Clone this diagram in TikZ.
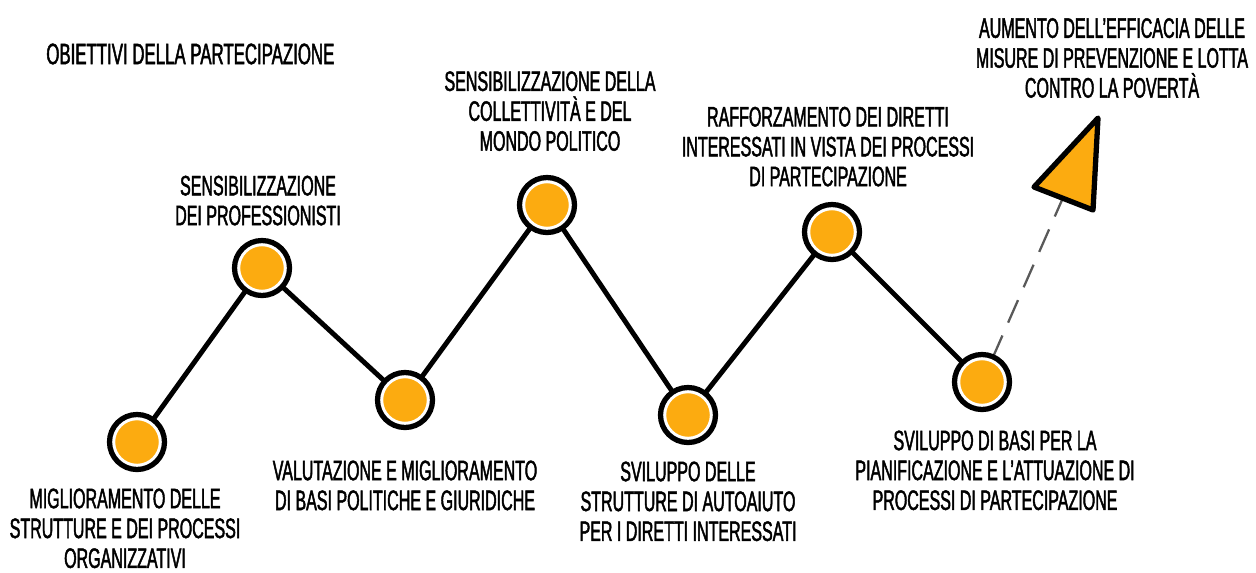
\documentclass[tikz,border=0pt]{standalone}
\usepackage{fontspec}
\setmainfont[FakeStretch=0.57,FakeBold=1.6]{Liberation Sans}
\usetikzlibrary{positioning}
\definecolor{punto}{RGB}{252,171,16}
\tikzset{
  tappa/.style={circle,fill=punto,draw=white,line width=2.5pt,minimum size=0.96cm,inner sep=0pt},
  anello/.style={draw=black,line width=3pt},
  testo/.style={align=center,font=\fontsize{16}{17}\selectfont,inner sep=0pt},
  tratto/.style={line width=2.8pt,black},
  verso/.style={line width=1.3pt,gray!70!black,dash pattern=on 14pt off 8pt}
}
\begin{document}
\begin{tikzpicture}[x=0.02cm,y=-0.02cm]
\useasboundingbox (0,0) rectangle (1256,572);
% tappe
\node[tappa](M1) at (137,442){};
\node[tappa](S2) at (262,268){};
\node[tappa](V3) at (405,400){};
\node[tappa](C4) at (547,205){};
\node[tappa](A5) at (688,415){};
\node[tappa](R6) at (832,232){};
\node[tappa](B7) at (982,382){};
\coordinate (punta) at (1062,200);
% linee
\draw[tratto] (M1) -- (S2) -- (V3) -- (C4) -- (A5) -- (R6) -- (B7);
\draw[verso] (B7) -- (punta);
\foreach \n in {M1,S2,V3,C4,A5,R6,B7}
  \draw[anello] (\n.center) circle (27.5);
\draw[anello,fill=punto,line join=round] (1098,118) -- (1034,187) -- (1093,210) -- cycle;
% testi
\node[testo,anchor=west,font=\fontsize{16.8}{17}\selectfont](titolo) at (46,54){OBIETTIVI DELLA PARTECIPAZIONE};
\node[testo,below=0.4cm of M1.south,xshift=-0.24cm](tM1){MIGLIORAMENTO DELLE\\STRUTTURE E DEI PROCESSI\\ORGANIZZATIVI};
\node[testo,above=0.32cm of S2.north,xshift=-0.08cm](tS2){SENSIBILIZZAZIONE\\DEI PROFESSIONISTI};
\node[testo,below=0.68cm of V3.south](tV3){VALUTAZIONE E MIGLIORAMENTO\\DI BASI POLITICHE E GIURIDICHE};
\node[testo,above=0.55cm of C4.north,xshift=0.06cm](tC4){SENSIBILIZZAZIONE DELLA\\COLLETTIVIT\`A E DEL\\MONDO POLITICO};
\node[testo,below=0.4cm of A5.south](tA5){SVILUPPO DELLE\\STRUTTURE DI AUTOAIUTO\\PER I DIRETTI INTERESSATI};
\node[testo,above=0.38cm of R6.north,xshift=-0.08cm](tR6){RAFFORZAMENTO DEI DIRETTI\\INTERESSATI IN VISTA DEI PROCESSI\\DI PARTECIPAZIONE};
\node[testo,below=0.44cm of B7.south,xshift=0.26cm](tB7){SVILUPPO DI BASI PER LA\\PIANIFICAZIONE E L'ATTUAZIONE DI\\PROCESSI DI PARTECIPAZIONE};
\node[testo](tmeta) at (1112,58){AUMENTO DELL'EFFICACIA DELLE\\MISURE DI PREVENZIONE E LOTTA\\CONTRO LA POVERT\`A};
\end{tikzpicture}
\end{document}
